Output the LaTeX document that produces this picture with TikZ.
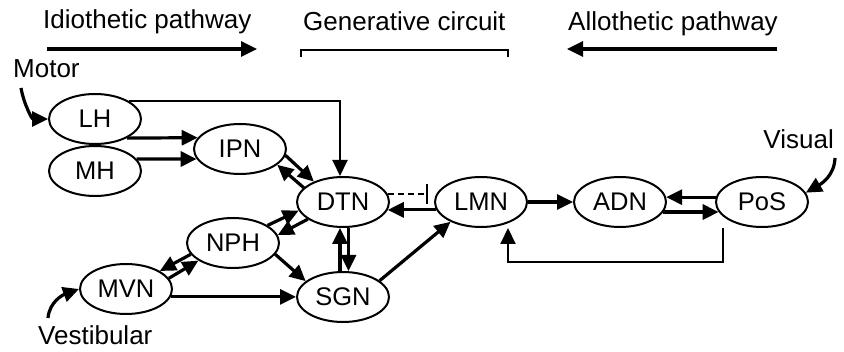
\documentclass[tikz,border=0pt]{standalone}
\usepackage{fontspec}
\setmainfont{Liberation Sans}
\usetikzlibrary{arrows.meta,shapes.geometric}
\begin{document}
\begin{tikzpicture}[x=1pt,y=-1pt,
  hub/.style={ellipse,draw,line width=2pt,minimum width=92pt,minimum height=50pt,
    inner sep=0pt,font=\fontsize{25.5pt}{25.5pt}\selectfont},
  lbl/.style={inner sep=0pt,font=\fontsize{26pt}{26pt}\selectfont},
  link/.style={line width=3.2pt,-{Triangle[length=16pt,width=15pt]}},
  thinlink/.style={line width=2pt,-{Triangle[length=16pt,width=15pt]}},
  inhibit/.style={line width=2.2pt,dash pattern=on 6pt off 4pt,-{Bar[width=20pt]}}]
\useasboundingbox (0,0) rectangle (844,352);

% headings
\node[lbl,anchor=base west] (idio) at (43,28.5) {Idiothetic pathway};
\node[lbl,anchor=base west] (gen) at (303,31) {Generative circuit};
\node[lbl,anchor=base west] (allo) at (568,31) {Allothetic pathway};
\coordinate (idA) at (47,49);
\coordinate (idB) at (257,49);
\coordinate (alA) at (777,49);
\coordinate (alB) at (567,49);
\draw[link] (idA) -- (idB);
\draw[link] (alA) -- (alB);
\draw[line width=1.8pt] (301,57) -- (301,50) -- (508,50) -- (508,57);

% nuclei
\node[hub] (LH)  at (95,119)  {LH};
\node[hub] (MH)  at (95,171)  {MH};
\node[hub] (IPN) at (240,149) {IPN};
\node[hub] (DTN) at (343,202) {DTN};
\node[hub] (NPH) at (233,243) {NPH};
\node[hub] (MVN) at (126,289) {MVN};
\node[hub] (SGN) at (343,297) {SGN};
\node[hub] (LMN) at (481,202) {LMN};
\node[hub] (ADN) at (620,202) {ADN};
\node[hub] (PoS) at (762,202) {PoS};

% sensory inputs
\node[lbl,anchor=base west] (motor) at (13,78) {Motor};
\node[lbl,anchor=base west] (vest) at (38,345) {Vestibular};
\node[lbl,anchor=base east] (vis) at (834,149) {Visual};
\coordinate (motorin) at (21,88);
\coordinate (vestin) at (48,318);
\coordinate (visin) at (835,158);
\draw[link] (motorin) to[out=-80,in=180] (LH.west);
\draw[link] (vestin) to[out=85,in=200] (MVN.west);
\draw[link] (visin) to[out=-92,in=30] (PoS.12);

% idiothetic connections
\draw[link] (LH.-31) -- (IPN.165);
\draw[link] (MH.16) -- (IPN.-167);
\draw[thinlink] (LH.28) -| ([xshift=-3pt]DTN.north);
\draw[link] (IPN.-8) -- (DTN.145);
\draw[link] (DTN.160) -- (IPN.-23);
\draw[link] (NPH.27) -- (DTN.-169);
\draw[link] (DTN.-154) -- (NPH.10);
\draw[link] (NPH.-15) -- (SGN.157);
\draw[link] (MVN.14) -- (NPH.-153);
\draw[link] (NPH.-165) -- (MVN.28);
\draw[link] (MVN.-10) -- (MVN.-10 -| SGN.west);
\draw[link] ([xshift=-3pt]SGN.north) -- ([xshift=-3pt]DTN.south);
\draw[link] ([xshift=5.5pt]DTN.south) -- ([xshift=5.5pt]SGN.north);
\draw[link] (SGN.24) -- (LMN.-147);

% generative circuit and allothetic connections
\draw[inhibit] (DTN.10) -- ([xshift=-8pt]LMN.170);
\draw[link] (LMN.190) -- (DTN.-10);
\draw[link] (LMN.east) -- (ADN.west);
\draw[link] (PoS.174) -- (ADN.6);
\draw[link] (ADN.-13) -- (PoS.-167);
\coordinate (fbturn) at (723,262);
\draw[thinlink] ([xshift=-39pt]PoS.south) -- (fbturn) -| ([xshift=27pt]LMN.south);
\end{tikzpicture}
\end{document}
